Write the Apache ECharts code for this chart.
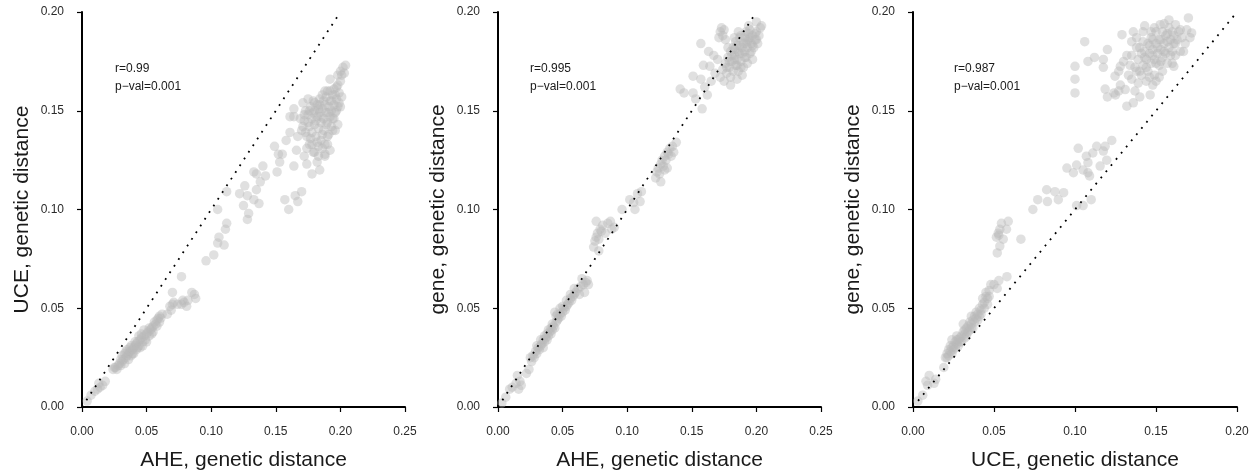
<!DOCTYPE html>
<html><head><meta charset="utf-8">
<script src="https://cdn.jsdelivr.net/npm/echarts@6/dist/echarts.min.js"></script>
<style>html,body{margin:0;padding:0;background:#fff}#c{width:1260px;height:476px}</style>
</head><body><div id="c"></div>
<script>
// Panel titles / axis names
const xNames = ["AHE, genetic distance", "AHE, genetic distance", "UCE, genetic distance"];
const yNames = ["UCE, genetic distance", "gene, genetic distance", "gene, genetic distance"];
const rValues = ["0.99", "0.995", "0.987"];
const pValues = ["0.001", "0.001", "0.001"];
const xMax = [0.25, 0.25, 0.20];
const yMax = [0.20, 0.20, 0.20];
const diagonal = [[0, 0], [0.2, 0.2]];

// Panel 1: AHE (x) vs UCE (y)
const aheUce = [
[0.004,0.003],[0.007,0.006],[0.010,0.008],[0.012,0.009],[0.014,0.010],[0.016,0.011],[0.018,0.013],[0.013,0.012],
[0.024,0.019],[0.026,0.020],[0.027,0.019],[0.028,0.021],[0.029,0.022],[0.030,0.021],[0.031,0.023],[0.032,0.024],[0.033,0.022],[0.034,0.025],[0.035,0.026],[0.036,0.024],[0.036,0.027],[0.037,0.028],[0.038,0.026],[0.039,0.029],[0.040,0.030],[0.040,0.027],[0.041,0.031],[0.042,0.029],[0.042,0.032],[0.043,0.033],[0.044,0.031],[0.045,0.034],[0.045,0.030],[0.046,0.035],[0.047,0.033],[0.048,0.036],[0.049,0.034],[0.050,0.037],[0.051,0.038],[0.052,0.036],[0.053,0.039],[0.054,0.040],[0.055,0.041],[0.056,0.043],[0.057,0.042],[0.058,0.044],[0.059,0.045],[0.060,0.046],[0.061,0.045],[0.062,0.047],[0.038,0.031],[0.044,0.036],[0.048,0.039],[0.035,0.029],[0.031,0.026],[0.050,0.033],[0.054,0.037],
[0.030,0.024],[0.033,0.027],[0.037,0.030],[0.041,0.033],[0.043,0.030],[0.046,0.037],[0.047,0.031],[0.052,0.040],[0.055,0.038],[0.058,0.041],[0.060,0.043],[0.025,0.020],[0.039,0.027],[0.034,0.028],
[0.066,0.047],[0.068,0.051],[0.070,0.052],[0.069,0.049],[0.071,0.053],[0.074,0.052],[0.077,0.052],[0.079,0.053],[0.081,0.051],[0.082,0.054],[0.078,0.054],[0.087,0.057],[0.088,0.055],[0.085,0.058],[0.070,0.058],[0.077,0.066],
[0.096,0.074],[0.102,0.077],[0.105,0.083],[0.106,0.086],[0.110,0.082],[0.111,0.090],[0.112,0.093],[0.105,0.100],[0.112,0.109],
[0.122,0.108],[0.126,0.112],[0.128,0.107],[0.125,0.102],[0.129,0.098],[0.133,0.105],[0.135,0.110],[0.137,0.103],[0.128,0.095],[0.133,0.119],[0.135,0.118],[0.140,0.122],[0.142,0.117],[0.138,0.114],
[0.149,0.132],[0.151,0.119],[0.155,0.128],[0.152,0.128],[0.153,0.124],
[0.157,0.105],[0.160,0.100],[0.165,0.107],[0.167,0.104],[0.170,0.109],
[0.164,0.122],[0.166,0.130],[0.161,0.139],[0.164,0.147],[0.158,0.135],[0.174,0.123],[0.178,0.118],[0.180,0.129],[0.182,0.124],[0.183,0.132],[0.188,0.127],[0.184,0.120],[0.164,0.151],[0.161,0.147],
[0.170,0.140],[0.172,0.145],[0.173,0.150],[0.174,0.137],[0.175,0.148],[0.176,0.142],[0.177,0.152],[0.178,0.139],[0.178,0.146],[0.179,0.155],[0.180,0.143],[0.180,0.150],[0.181,0.137],[0.182,0.147],[0.182,0.153],[0.183,0.141],[0.184,0.149],[0.184,0.156],[0.185,0.144],[0.185,0.135],[0.186,0.151],[0.186,0.158],[0.187,0.146],[0.187,0.140],[0.188,0.153],[0.188,0.133],[0.189,0.149],[0.189,0.157],[0.190,0.144],[0.190,0.160],[0.191,0.152],[0.191,0.138],[0.192,0.147],[0.192,0.155],[0.193,0.150],[0.193,0.142],[0.194,0.158],[0.194,0.146],[0.195,0.153],[0.195,0.161],[0.196,0.149],[0.196,0.140],[0.197,0.156],[0.198,0.152],[0.199,0.159],[0.176,0.133],[0.179,0.129],[0.183,0.127],[0.186,0.131],[0.188,0.128],[0.190,0.133],[0.192,0.130],[0.174,0.131],[0.171,0.154],[0.175,0.156],[0.169,0.146],[0.167,0.137],[0.172,0.127],
[0.171,0.142],[0.173,0.139],[0.175,0.144],[0.177,0.136],[0.179,0.149],[0.181,0.145],[0.183,0.151],[0.185,0.147],[0.187,0.155],[0.189,0.143],[0.191,0.149],[0.193,0.155],[0.195,0.146],[0.197,0.150],[0.199,0.154],[0.194,0.140],[0.190,0.137],[0.186,0.138],[0.182,0.134],[0.178,0.133],[0.196,0.158],[0.198,0.163],[0.200,0.165],[0.201,0.168],[0.192,0.160],[0.188,0.160],[0.184,0.153],[0.180,0.154],[0.176,0.150],[0.172,0.148],
[0.198,0.143],[0.200,0.152],[0.201,0.157],[0.197,0.162],[0.192,0.166],[0.198,0.168],[0.200,0.170],[0.202,0.172],[0.204,0.173],[0.203,0.169]
];

// Panel 2: AHE (x) vs gene (y)
const aheGene = [
[0.003,0.002],[0.006,0.005],[0.009,0.009],[0.011,0.010],[0.014,0.012],[0.015,0.016],[0.017,0.013],[0.018,0.011],[0.016,0.009],
[0.022,0.017],[0.024,0.019],[0.025,0.025],[0.026,0.023],[0.027,0.026],[0.028,0.025],[0.029,0.028],[0.030,0.027],[0.031,0.030],[0.032,0.029],[0.033,0.031],[0.034,0.032],[0.035,0.030],[0.035,0.034],[0.036,0.033],[0.037,0.035],[0.038,0.034],[0.038,0.037],[0.039,0.036],[0.040,0.038],[0.041,0.037],[0.041,0.040],[0.042,0.039],[0.043,0.041],[0.044,0.040],[0.045,0.043],[0.045,0.046],[0.046,0.044],[0.047,0.045],[0.048,0.047],[0.049,0.046],[0.050,0.048],[0.051,0.050],[0.052,0.049],[0.053,0.051],[0.054,0.052],[0.055,0.053],[0.056,0.055],[0.057,0.054],[0.058,0.056],[0.059,0.057],[0.060,0.058],[0.062,0.060],[0.064,0.061],[0.066,0.062],[0.068,0.063],[0.069,0.064],[0.070,0.062],[0.067,0.058],[0.065,0.065],[0.063,0.057],[0.044,0.048],[0.048,0.050],
[0.030,0.031],[0.033,0.034],[0.036,0.036],[0.039,0.039],[0.042,0.042],[0.046,0.047],[0.050,0.051],[0.053,0.054],[0.056,0.057],[0.059,0.060],
[0.074,0.081],[0.075,0.084],[0.076,0.086],[0.077,0.088],[0.078,0.085],[0.079,0.090],[0.080,0.089],[0.081,0.092],[0.083,0.088],[0.085,0.093],[0.087,0.094],[0.088,0.090],[0.090,0.091],[0.076,0.094],[0.078,0.079],
[0.096,0.100],[0.102,0.105],[0.105,0.1035],[0.110,0.104],[0.111,0.109],[0.108,0.108],[0.106,0.100],
[0.122,0.116],[0.123,0.119],[0.124,0.121],[0.125,0.118],[0.126,0.123],[0.127,0.125],[0.128,0.122],[0.129,0.127],[0.130,0.125],[0.131,0.129],[0.132,0.128],[0.133,0.131],[0.134,0.127],[0.135,0.132],[0.126,0.114],[0.129,0.120],[0.136,0.129],[0.138,0.134],[0.131,0.121],
[0.141,0.161],[0.144,0.159],[0.151,0.159],[0.153,0.156],[0.158,0.151],[0.157,0.166],[0.151,0.1675],[0.157,0.184],[0.159,0.173],[0.164,0.1725],[0.167,0.178],[0.162,0.158],[0.160,0.162],[0.165,0.165],[0.163,0.180],[0.168,0.169],[0.170,0.176],
[0.171,0.187],[0.172,0.190],[0.173,0.192],[0.174,0.188],[0.175,0.191],[0.176,0.186],
[0.172,0.167],[0.174,0.171],[0.175,0.165],[0.176,0.174],[0.177,0.169],[0.178,0.177],[0.179,0.172],[0.180,0.180],[0.180,0.167],[0.181,0.175],[0.182,0.170],[0.182,0.182],[0.183,0.178],[0.184,0.173],[0.184,0.185],[0.185,0.176],[0.186,0.180],[0.186,0.170],[0.187,0.183],[0.188,0.175],[0.188,0.188],[0.189,0.179],[0.190,0.184],[0.190,0.172],[0.191,0.187],[0.192,0.177],[0.192,0.190],[0.193,0.182],[0.194,0.186],[0.195,0.179],[0.195,0.191],[0.196,0.184],[0.197,0.188],[0.198,0.182],[0.199,0.186],[0.200,0.190],[0.201,0.184],[0.202,0.188],[0.203,0.192],[0.204,0.193],[0.200,0.195],[0.194,0.193],[0.186,0.190],[0.183,0.187],[0.178,0.182],[0.185,0.166],[0.189,0.168],[0.193,0.174],[0.197,0.176],[0.180,0.163],
[0.181,0.178],[0.183,0.181],[0.185,0.183],[0.187,0.179],[0.189,0.182],[0.191,0.180],[0.193,0.185],[0.195,0.187],[0.197,0.183],[0.199,0.189],[0.187,0.187],[0.185,0.173],[0.183,0.176],[0.191,0.177],[0.196,0.180],[0.192,0.184],[0.188,0.172],[0.179,0.175],[0.177,0.172],[0.200,0.186],[0.194,0.189]
];

// Panel 3: UCE (x) vs gene (y)
const uceGene = [
[0.003,0.003],[0.006,0.006],[0.009,0.011],[0.010,0.016],[0.013,0.012],[0.014,0.014],[0.019,0.020],[0.008,0.013],
[0.020,0.025],[0.021,0.027],[0.022,0.026],[0.022,0.029],[0.023,0.028],[0.024,0.030],[0.024,0.027],[0.025,0.031],[0.026,0.030],[0.026,0.033],[0.027,0.032],[0.028,0.034],[0.028,0.031],[0.029,0.035],[0.030,0.036],[0.030,0.033],[0.031,0.038],[0.032,0.037],[0.032,0.039],[0.033,0.036],[0.033,0.040],[0.034,0.041],[0.035,0.039],[0.035,0.043],[0.036,0.042],[0.037,0.044],[0.037,0.040],[0.038,0.046],[0.039,0.045],[0.039,0.048],[0.040,0.047],[0.041,0.050],[0.041,0.046],[0.042,0.049],[0.043,0.052],[0.043,0.055],[0.044,0.053],[0.045,0.056],[0.045,0.058],[0.046,0.055],[0.047,0.059],[0.048,0.062],[0.050,0.062],[0.052,0.060],[0.053,0.064],[0.058,0.066],[0.027,0.036],[0.031,0.042],[0.036,0.046],[0.024,0.034],
[0.025,0.029],[0.027,0.034],[0.029,0.033],[0.032,0.035],[0.034,0.038],[0.036,0.040],[0.038,0.043],[0.040,0.044],[0.042,0.047],[0.044,0.050],[0.046,0.052],[0.047,0.056],[0.021,0.025],[0.023,0.031],
[0.0526,0.088],[0.0536,0.090],[0.0515,0.086],[0.0546,0.093],[0.0588,0.094],[0.0577,0.090],[0.0557,0.085],[0.0536,0.0815],[0.052,0.078],[0.0666,0.085],[0.053,0.087],
[0.074,0.100],[0.077,0.105],[0.0825,0.110],[0.083,0.104],[0.0876,0.109],[0.0897,0.105],[0.093,0.1085],[0.095,0.121],[0.099,0.1186],[0.101,0.1225],[0.102,0.131],[0.107,0.127],[0.108,0.1237],[0.105,0.120],[0.109,0.117],[0.111,0.1286],[0.1134,0.132],[0.1175,0.1296],[0.1186,0.132],[0.1227,0.135],[0.1196,0.125],[0.1155,0.122],[0.110,0.105],[0.105,0.102],[0.101,0.102],[0.108,0.1186],
[0.106,0.185],[0.100,0.1725],[0.100,0.166],[0.100,0.159],[0.108,0.175],[0.112,0.177],[0.1186,0.161],[0.120,0.157],[0.124,0.159],[0.1175,0.172],[0.1175,0.176],[0.120,0.181],[0.1247,0.1675],[0.128,0.1725],[0.129,0.1885],[0.132,0.1523],[0.128,0.163],[0.131,0.1607],[0.136,0.154],[0.140,0.157],[0.1464,0.158],[0.135,0.166],[0.136,0.190],[0.143,0.193],[0.147,0.190],[0.1526,0.1936],[0.158,0.196],[0.162,0.1936],[0.170,0.197],[0.172,0.1894],[0.169,0.191],[0.167,0.180],[0.165,0.180],[0.164,0.190],[0.171,0.187],[0.161,0.184],[0.161,0.1725],
[0.135,0.178],[0.137,0.172],[0.138,0.182],[0.139,0.176],[0.140,0.170],[0.141,0.179],[0.142,0.185],[0.142,0.173],[0.143,0.180],[0.144,0.176],[0.145,0.170],[0.145,0.184],[0.146,0.179],[0.147,0.174],[0.147,0.187],[0.148,0.181],[0.149,0.176],[0.149,0.168],[0.150,0.184],[0.150,0.190],[0.151,0.179],[0.152,0.173],[0.152,0.186],[0.153,0.181],[0.154,0.177],[0.154,0.190],[0.155,0.184],[0.156,0.179],[0.156,0.188],[0.157,0.174],[0.158,0.182],[0.158,0.192],[0.159,0.186],[0.160,0.180],[0.161,0.188],[0.162,0.184],[0.144,0.165],[0.148,0.163],[0.152,0.167],[0.139,0.164],[0.135,0.185],[0.132,0.178],[0.130,0.175],[0.127,0.170],[0.133,0.168],
[0.140,0.182],[0.143,0.177],[0.146,0.183],[0.148,0.178],[0.150,0.174],[0.151,0.182],[0.153,0.186],[0.155,0.180],[0.157,0.185],[0.159,0.178],[0.160,0.190],[0.163,0.186],[0.165,0.191],[0.166,0.187],[0.168,0.184],[0.144,0.172],[0.141,0.168],[0.138,0.170],[0.146,0.167],[0.150,0.165],[0.154,0.170],[0.137,0.160],[0.125,0.158],[0.127,0.160],[0.142,0.190],[0.149,0.192],[0.155,0.194],[0.157,0.189],[0.162,0.178],[0.160,0.174],[0.153,0.175],[0.148,0.186],[0.134,0.173],[0.138,0.187]
];

const panels = [aheUce, aheGene, uceGene];
const grids = [
  {left: 82, top: 12, width: 323, height: 396},
  {left: 498, top: 12, width: 323, height: 396},
  {left: 913, top: 12, width: 324, height: 396}
];
const annotLeft = [115, 530, 954];
const FONT = 'Liberation Sans, Arial, sans-serif';

function axisCommon(max, name, gap, idx, isY) {
  return {
    type: 'value', gridIndex: idx, min: 0, max: max, interval: 0.05,
    name: name, nameLocation: 'middle', nameGap: gap,
    nameTextStyle: {fontFamily: FONT, fontSize: 21, color: '#1a1a1a'},
    axisLine: {show: true, onZero: false, lineStyle: {color: '#000', width: 2}},
    axisTick: {show: true, inside: false, length: 5, lineStyle: {color: '#000', width: 1.2}},
    axisLabel: {fontFamily: FONT, fontSize: 12, color: '#2a2a2a', margin: isY ? 18 : 19,
      formatter: v => v.toFixed(2)},
    splitLine: {show: false}
  };
}

const option = {
  animation: false,
  backgroundColor: '#fff',
  grid: grids,
  xAxis: panels.map((_, i) => axisCommon(xMax[i], xNames[i], 43, i, false)),
  yAxis: panels.map((_, i) => axisCommon(yMax[i], yNames[i], 49, i, true)),
  series: [].concat(...panels.map((d, i) => [
    {type: 'scatter', xAxisIndex: i, yAxisIndex: i, data: d, symbolSize: 9.5,
     itemStyle: {color: 'rgba(185,185,185,0.55)'}, z: 2},
    {type: 'line', xAxisIndex: i, yAxisIndex: i, data: diagonal, showSymbol: false,
     lineStyle: {color: '#000', width: 1.8, type: [1.8, 6.2]}, z: 3}
  ])),
  graphic: [].concat(...panels.map((_, i) => [
    {type: 'text', left: annotLeft[i], top: 63, style: {text: 'r=' + rValues[i], font: '12px ' + FONT, fill: '#1a1a1a'}},
    {type: 'text', left: annotLeft[i], top: 81, style: {text: 'p\u2212val=' + pValues[i], font: '12px ' + FONT, fill: '#1a1a1a'}}
  ]))
};
echarts.init(document.getElementById('c'), null, {renderer: 'canvas'}).setOption(option);
</script></body></html>
